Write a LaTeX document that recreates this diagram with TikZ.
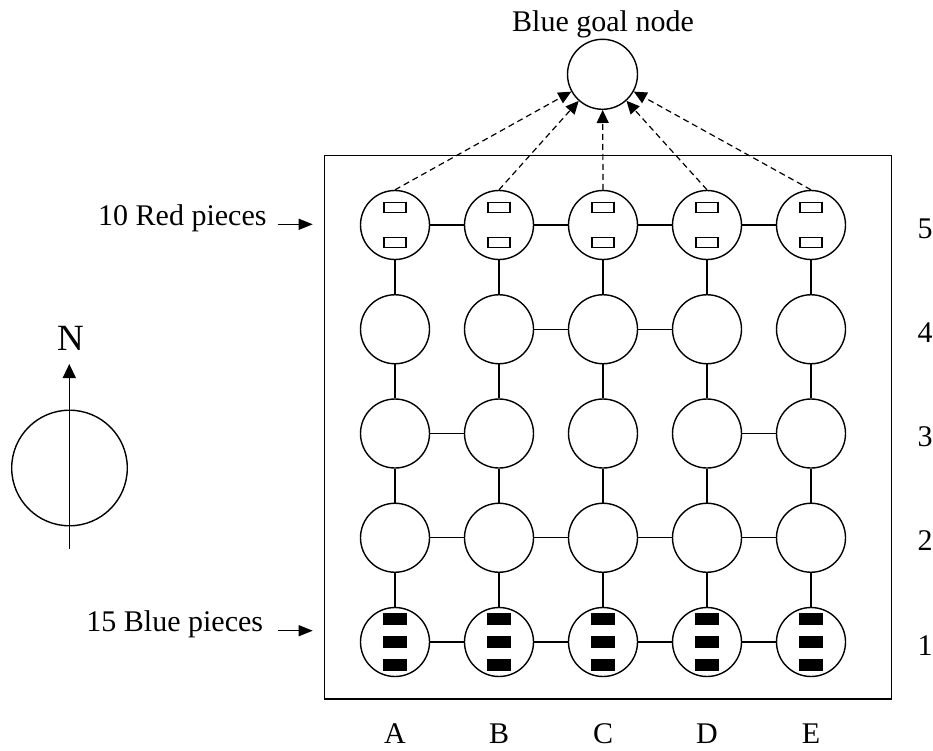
\documentclass[tikz,border=0pt]{standalone}
\usepackage{fontspec}
\setmainfont{Liberation Serif}
\usetikzlibrary{arrows.meta}
\begin{document}
\begin{tikzpicture}[x=1pt,y=-1pt,
  cell/.style={circle,draw,line width=1.4pt,minimum size=69pt,inner sep=0pt},
  link/.style={line width=1.4pt},
  dsh/.style={line width=1.2pt,dash pattern=on 6pt off 4pt,-{Triangle[length=13pt,width=12pt]}},
  lblarrow/.style={line width=1.3pt,-{Triangle[length=14pt,width=11pt]}},
  lbl/.style={font=\fontsize{30}{36}\selectfont,inner sep=0pt},
  redpc/.style={draw,line width=1.5pt,minimum width=22.2pt,minimum height=10.2pt,inner sep=0pt,outer sep=0pt},
  bluepc/.style={fill=black,minimum width=23.7pt,minimum height=11.7pt,inner sep=0pt,outer sep=0pt}]
\useasboundingbox (0,0) rectangle (933,751);

% frame
\draw[line width=1.5pt] (324.5,155.7) rectangle (891.7,699);

% grid cells
\foreach \c [count=\i from 0] in {A,B,C,D,E} {
  \foreach \r in {1,...,5} {
    \node[cell] (\c\r) at ({395+104*\i},{642-104.25*(\r-1)}) {};
  }
}

% vertical links
\foreach \c in {A,B,C,D,E} {
  \foreach \r [evaluate=\r as \s using int(\r+1)] in {1,...,4} {
    \draw[link] (\c\r) -- (\c\s);
  }
}
% horizontal links
\foreach \a/\b in {A5/B5,B5/C5,C5/D5,D5/E5,
                   B4/C4,C4/D4,
                   A3/B3,D3/E3,
                   A2/B2,B2/C2,C2/D2,D2/E2,
                   A1/B1,B1/C1,C1/D1,D1/E1} {
  \draw[link] (\a) -- (\b);
}

% pieces
\foreach \c in {A,B,C,D,E} {
  \node[redpc] (\c5u) at ([yshift=17.5pt]\c5.center) {};
  \node[redpc] (\c5d) at ([yshift=-17.5pt]\c5.center) {};
  \node[bluepc] (\c1u) at ([yshift=22.8pt]\c1.center) {};
  \node[bluepc] (\c1m) at ([yshift=0pt]\c1.center) {};
  \node[bluepc] (\c1d) at ([yshift=-22.8pt]\c1.center) {};
}

% goal node
\node[cell,minimum size=70pt] (goal) at (602.5,74.3) {};
\node[lbl,anchor=base] (goallbl) at (603,32) {Blue goal node};
\foreach \c in {A,B,C,D,E} {
  \draw[dsh] (\c5.north) -- (goal);
}

% row labels
\foreach \r in {1,...,5} {
  \node[lbl,anchor=base] (row\r) at (925,{642-104.25*(\r-1)+13}) {\r};
}
% column labels
\foreach \c [count=\i from 0] in {A,B,C,D,E} {
  \node[lbl,anchor=base,text depth=0pt] (col\c) at ({395+104*\i},743) {\c};
}

% piece labels
\node[lbl,anchor=base east] (redlbl) at (266.7,225.7) {10 Red pieces};
\coordinate (redS) at (277.7,224.3);
\coordinate (redE) at (312.7,224.3);
\draw[lblarrow] (redS) -- (redE);
\node[lbl,anchor=base east] (bluelbl) at (263.3,631.7) {15 Blue pieces};
\coordinate (blueS) at (277.7,630.7);
\coordinate (blueE) at (312.7,630.7);
\draw[lblarrow] (blueS) -- (blueE);

% compass
\node[circle,draw,line width=1.4pt,minimum size=115.6pt,inner sep=0pt] (compass) at (69.5,468) {};
\coordinate (cS) at (69.3,549);
\coordinate (cE) at (69.3,364);
\draw[line width=1.4pt,-{Triangle[length=14pt,width=13pt]}] (cS) -- (cE);
\node[anchor=base,inner sep=0pt,font=\fontsize{37}{44}\selectfont] (north) at (70.5,350) {N};
\end{tikzpicture}
\end{document}
